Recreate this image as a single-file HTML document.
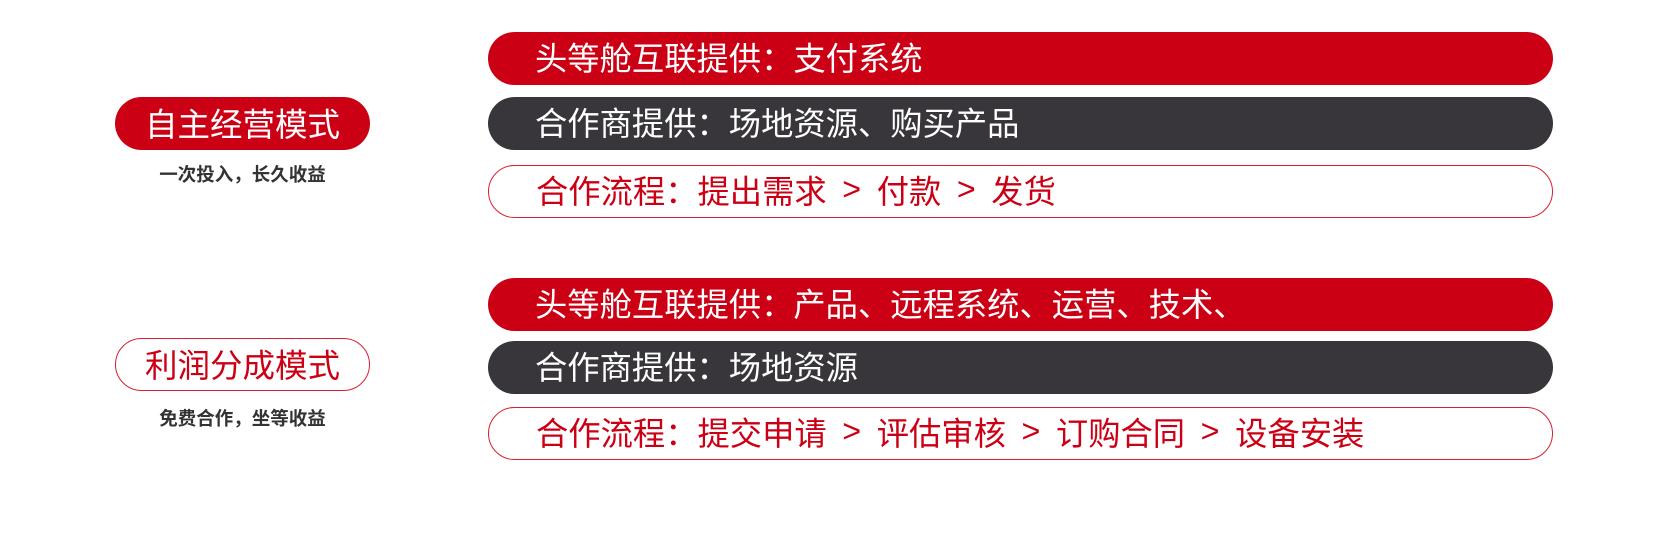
<!DOCTYPE html>
<html><head><meta charset="utf-8"><style>
body{margin:0;width:1672px;height:551px;background:#fff;position:relative;overflow:hidden;font-family:"Liberation Sans","Noto Sans CJK SC",sans-serif;}
.p{position:absolute;box-sizing:border-box;border-radius:27px;display:flex;align-items:center;white-space:nowrap;}
.r{left:488px;width:1065px;height:53px;padding-left:47px;padding-bottom:4px;font-size:32.3px;}
.red{background:#cc0014;color:#fff;}
.dark{background:#38363b;color:#fff;}
.out{background:#fff;color:#cc0014;border:1.5px solid #d8202e;}
.g{display:inline-block;width:50px;text-align:center;}
.l{left:115px;width:255px;height:53px;justify-content:center;font-size:32.5px;padding-bottom:3px;}
.s{position:absolute;left:115px;width:255px;text-align:center;font-size:18.5px;font-weight:bold;color:#333;}
</style></head><body>
<div class="p r red" style="top:32px">头等舱互联提供：支付系统</div>
<div class="p r dark" style="top:97px">合作商提供：场地资源、购买产品</div>
<div class="p r out" style="top:165px">合作流程：提出需求<span class="g">&gt;</span>付款<span class="g">&gt;</span>发货</div>
<div class="p l red" style="top:97px">自主经营模式</div>
<div class="s" style="top:161px">一次投入，长久收益</div>

<div class="p r red" style="top:278px">头等舱互联提供：产品、远程系统、运营、技术、</div>
<div class="p r dark" style="top:341px">合作商提供：场地资源</div>
<div class="p r out" style="top:407px">合作流程：提交申请<span class="g">&gt;</span>评估审核<span class="g">&gt;</span>订购合同<span class="g">&gt;</span>设备安装</div>
<div class="p l out" style="top:338px">利润分成模式</div>
<div class="s" style="top:405px">免费合作，坐等收益</div>
</body></html>
